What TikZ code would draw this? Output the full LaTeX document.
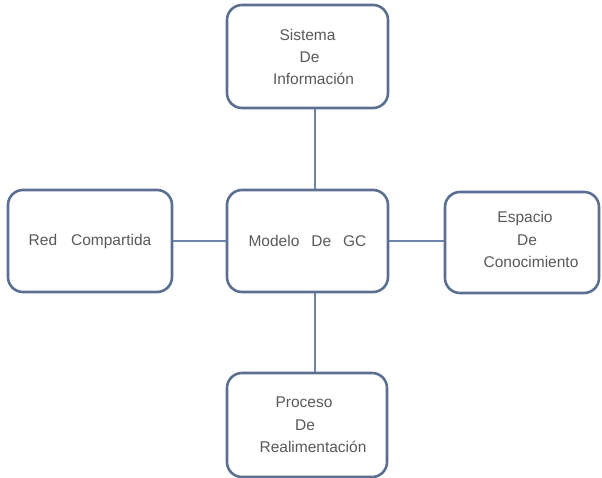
\documentclass[tikz,border=0pt]{standalone}
\usepackage{fontspec}
\setmainfont{Liberation Sans}
\definecolor{boxline}{HTML}{5B6F91}
\definecolor{conn}{HTML}{6C84AC}
\definecolor{txt}{HTML}{595959}
\begin{document}
\begin{tikzpicture}[x=1pt,y=-1pt,
  box/.style={draw=boxline, line width=2.6pt, rounded corners=15pt, rectangle,
    align=center, text=txt, font=\fontsize{15.5}{22}\selectfont, inner sep=0pt},
  link/.style={draw=conn, line width=2.6pt}]
\useasboundingbox (0,0) rectangle (602,478);
\node[box, minimum width=161pt, minimum height=103pt] (top) at (307.5,56.5) {Sistema\\\hspace*{4pt}De\\\hspace*{12pt}Información};
\node[box, minimum width=164pt, minimum height=102pt] (left) at (90,241) {Red\hspace{14pt}Compartida};
\node[box, minimum width=161pt, minimum height=102pt] (mid) at (307.5,241) {Modelo\hspace{12pt}De\hspace{12pt}GC};
\node[box, minimum width=154pt, minimum height=101pt] (right) at (522,242.5) {\hspace*{6pt}Espacio\\[1pt]\hspace*{10pt}De\\\hspace*{18pt}Conocimiento\\[-16pt]\mbox{}};
\node[box, minimum width=160pt, minimum height=104pt] (bot) at (307,425) {\hspace*{-6pt}Proceso\\[1pt]\hspace*{-4pt}De\\\hspace*{12pt}Realimentación};
\draw[link] (top.south -| 315,0) -- (mid.north -| 315,0);
\draw[link] (mid.south -| 315,0) -- (bot.north -| 315,0);
\draw[link] (left.east) -- (mid.west);
\draw[link] (mid.east) -- (right.west |- mid.east);
\end{tikzpicture}
\end{document}
